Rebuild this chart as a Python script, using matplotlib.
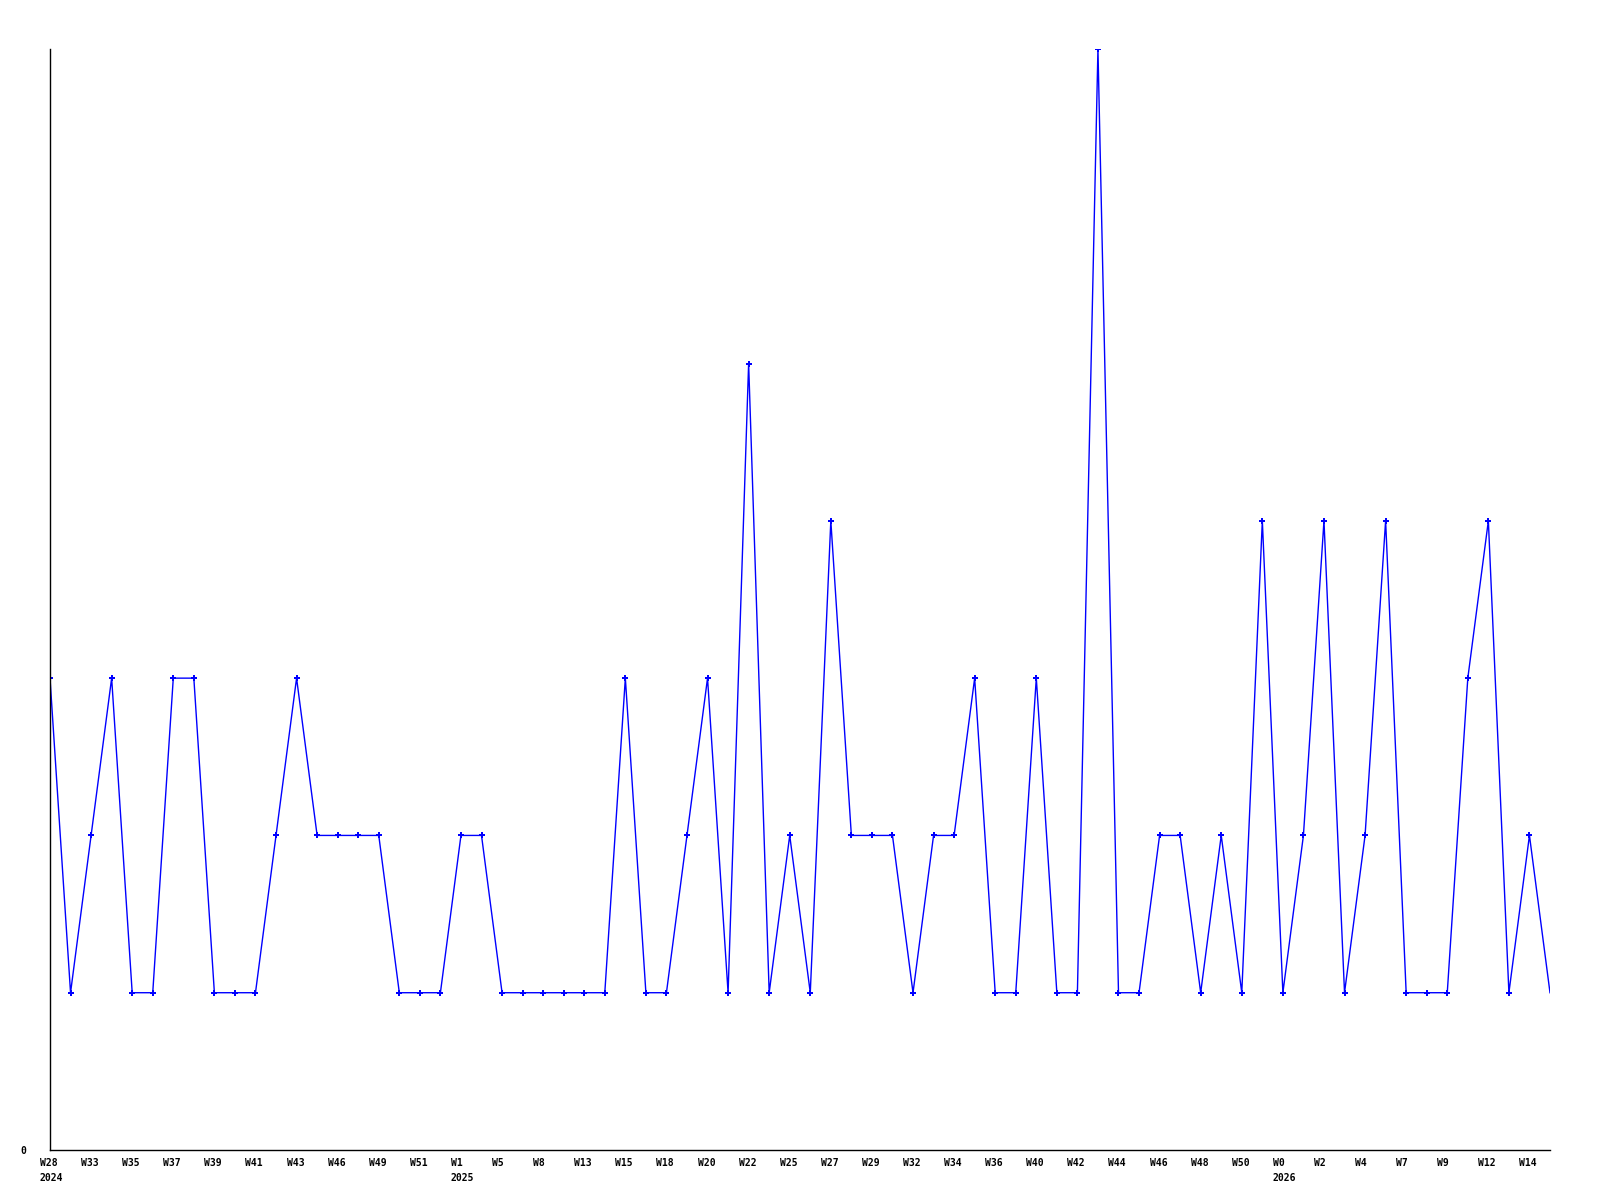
import matplotlib
matplotlib.use("Agg")
import matplotlib.pyplot as plt
import matplotlib.transforms as mtransforms

# valeurs hebdomadaires
values = [3, 1, 2, 3, 1, 1, 3, 3, 1, 1,
          1, 2, 3, 2, 2, 2, 2, 1, 1, 1,
          2, 2, 1, 1, 1, 1, 1, 1, 3, 1,
          1, 2, 3, 1, 5, 1, 2, 1, 4, 2,
          2, 2, 1, 2, 2, 3, 1, 1, 3, 1,
          1, 7, 1, 1, 2, 2, 1, 2, 1, 4,
          1, 2, 4, 1, 2, 4, 1, 1, 1, 3,
          4, 1, 2, 1]

week_labels = ["W28", "W33", "W35", "W37", "W39", "W41", "W43", "W46", "W49", "W51",
               "W1", "W5", "W8", "W13", "W15", "W18", "W20", "W22", "W25", "W27",
               "W29", "W32", "W34", "W36", "W40", "W42", "W44", "W46", "W48", "W50",
               "W0", "W2", "W4", "W7", "W9", "W12", "W14"]
year_labels = {0: "2024", 10: "2025", 30: "2026"}

x = list(range(len(values)))

fig = plt.figure(figsize=(16, 12), dpi=100)
ax = fig.add_axes([50 / 1600, 1 - 1150 / 1200, 1500 / 1600, 1101 / 1200])

ax.plot(x, values, color="#0000ff", linewidth=1)
# pas de marqueur sur le dernier point
ax.plot(x[:-1], values[:-1], linestyle="none", marker="P", markersize=4,
        color="#0000ff", markeredgewidth=0)

ax.set_xlim(0, len(values) - 1)
ax.set_ylim(0, 7)

labels = []
for i, lab in enumerate(week_labels):
    if i in year_labels:
        lab = lab + "\n" + year_labels[i]
    labels.append(lab)
ax.set_xticks(x[::2])
ax.set_xticklabels(labels, fontfamily="DejaVu Sans Mono", fontweight="bold",
                   fontsize=7, linespacing=1.6, ha="left")
ax.tick_params(axis="x", length=0, pad=6)
# decale les etiquettes un peu a gauche du point
offset = mtransforms.ScaledTranslation(-10 / 100, 0, fig.dpi_scale_trans)
for t in ax.get_xticklabels():
    t.set_transform(t.get_transform() + offset)

ax.set_yticks([0])
ax.set_yticklabels(["0"], fontfamily="DejaVu Sans Mono", fontweight="bold", fontsize=7)
ax.tick_params(axis="y", length=0, pad=17)

ax.spines["top"].set_visible(False)
ax.spines["right"].set_visible(False)
ax.spines["left"].set_linewidth(1)
ax.spines["bottom"].set_linewidth(1)

fig.savefig("out.png", dpi=100)
